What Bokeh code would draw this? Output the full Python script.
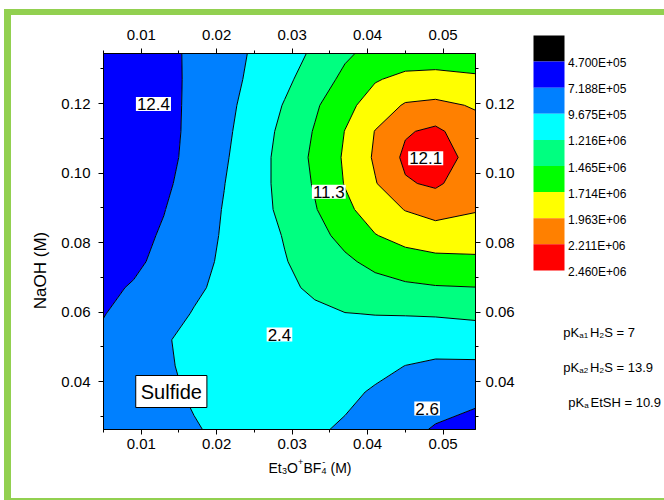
import numpy as np
from bokeh.plotting import figure
from bokeh.models import Range1d, FixedTicker, LinearAxis, Label, NumeralTickFormatter
from bokeh.layouts import row, column
from bokeh.embed import file_html
from bokeh.resources import INLINE

FONT = "'Liberation Sans', Arial, sans-serif"

# ---------------- data ----------------
x_conc = [0.005, 0.009, 0.013, 0.017, 0.021, 0.025, 0.029, 0.033, 0.037, 0.041, 0.045, 0.049, 0.0543]
y_naoh = [0.0262, 0.037, 0.0445, 0.052, 0.0595, 0.067, 0.0745, 0.082, 0.0895, 0.097,
          0.1045, 0.112, 0.1195, 0.127, 0.1344]
# response in units of 1e6 (rows = NaOH ascending, columns = Et3O+BF4- ascending)
z_million = [
    [0.806, 0.856, 0.903, 0.953, 1.005, 1.030, 1.017, 0.997, 0.938, 0.856, 0.781, 0.699, 0.644],
    [0.798, 0.863, 0.928, 0.992, 1.042, 1.067, 1.067, 1.042, 1.017, 0.943, 0.888, 0.831, 0.776],
    [0.781, 0.863, 0.945, 1.005, 1.055, 1.079, 1.087, 1.092, 1.082, 1.030, 0.965, 0.930, 0.928],
    [0.756, 0.853, 0.950, 1.017, 1.055, 1.079, 1.104, 1.129, 1.149, 1.127, 1.097, 1.072, 1.092],
    [0.711, 0.798, 0.888, 0.980, 1.042, 1.092, 1.142, 1.172, 1.211, 1.221, 1.226, 1.236, 1.259],
    [0.669, 0.739, 0.836, 0.933, 1.017, 1.094, 1.172, 1.254, 1.318, 1.373, 1.420, 1.448, 1.460],
    [0.639, 0.674, 0.783, 0.895, 1.002, 1.104, 1.204, 1.311, 1.420, 1.532, 1.612, 1.647, 1.669],
    [0.614, 0.649, 0.744, 0.868, 0.990, 1.107, 1.229, 1.380, 1.540, 1.704, 1.796, 1.851, 1.831],
    [0.594, 0.632, 0.711, 0.846, 0.980, 1.122, 1.274, 1.448, 1.657, 1.836, 1.972, 2.047, 1.980],
    [0.582, 0.619, 0.674, 0.818, 0.963, 1.122, 1.293, 1.487, 1.726, 1.948, 2.186, 2.249, 2.062],
    [0.570, 0.594, 0.647, 0.793, 0.940, 1.112, 1.301, 1.512, 1.744, 1.995, 2.261, 2.373, 2.087],
    [0.565, 0.594, 0.642, 0.778, 0.920, 1.089, 1.278, 1.482, 1.719, 1.970, 2.186, 2.261, 2.047],
    [0.562, 0.599, 0.644, 0.771, 0.903, 1.057, 1.231, 1.430, 1.639, 1.833, 1.985, 2.015, 1.943],
    [0.560, 0.599, 0.649, 0.764, 0.888, 1.017, 1.162, 1.338, 1.520, 1.694, 1.776, 1.788, 1.751],
    [0.557, 0.607, 0.657, 0.761, 0.878, 0.995, 1.119, 1.254, 1.428, 1.540, 1.577, 1.589, 1.577],
]
levels = [4.700e5, 7.188e5, 9.675e5, 1.216e6, 1.465e6, 1.714e6, 1.963e6, 2.211e6, 2.460e6]
level_labels = ["4.700E+05", "7.188E+05", "9.675E+05", "1.216E+06", "1.465E+06",
                "1.714E+06", "1.963E+06", "2.211E+06", "2.460E+06"]
fill_colors = ["#0000FF", "#0080FF", "#00FFFF", "#00FF80", "#00FF00", "#FFFF00", "#FF8000", "#FF0000"]
below_color = "#000000"

x_ticks = [0.01, 0.02, 0.03, 0.04, 0.05]
x_minor = [0.005, 0.015, 0.025, 0.035, 0.045]
y_ticks = [0.04, 0.06, 0.08, 0.10, 0.12]
y_minor = [0.03, 0.05, 0.07, 0.09, 0.11, 0.13]

contour_texts = ["12.4", "12.1", "11.3", "2.4", "2.6"]
contour_text_x = [0.01162, 0.04770, 0.03486, 0.02832, 0.04789]
contour_text_y = [0.1199, 0.10424, 0.09462, 0.05352, 0.03222]


def no_align(fig):
    try:
        fig.frame_align = False
    except Exception:
        pass


def strip(w, h, xr, yr):
    f = figure(width=w, height=h, x_range=Range1d(*xr), y_range=Range1d(*yr),
               output_backend="svg", toolbar_location=None, x_axis_location=None, y_axis_location=None,
               min_border_left=0, min_border_right=0, min_border_top=0, min_border_bottom=0,
               border_fill_color=None, background_fill_color=None, outline_line_color=None)
    f.grid.visible = False
    no_align(f)
    return f


# ---------------- main figure ----------------
X0, X1, Y0, Y1 = 0.005, 0.0543, 0.0262, 0.1344
LEFT_W = 58
MAIN_W, MAIN_H = 520 - LEFT_W, 457
FL, FR, FT, FB = 102, 475, 53, 429   # frame edges in page pixels


def px2x(px):
    return X0 + (px - FL) * (X1 - X0) / (FR - FL)


def py2y(py):
    return Y1 - (py - FT) * (Y1 - Y0) / (FB - FT)


p = figure(width=MAIN_W, height=MAIN_H, x_range=Range1d(X0, X1), y_range=Range1d(Y0, Y1),
           output_backend="svg", toolbar_location=None,
           min_border_left=FL - LEFT_W, min_border_right=520 - FR, min_border_top=FT,
           min_border_bottom=MAIN_H - FB,
           border_fill_color=None, background_fill_color="white", outline_line_color="black")
p.grid.visible = False
no_align(p)

Z = np.array(z_million) * 1e6
p.contour(x=np.array(x_conc), y=np.array(y_naoh), z=Z, levels=levels,
          fill_color=fill_colors, line_color="black", line_width=1)

p.add_layout(LinearAxis(), "above")
p.add_layout(LinearAxis(), "right")


def style_axis(ax, ticks, minor, standoff):
    ax.ticker = FixedTicker(ticks=ticks, minor_ticks=minor)
    ax.formatter = NumeralTickFormatter(format="0.00")
    ax.major_tick_in = 0
    ax.major_tick_out = 5
    ax.minor_tick_in = 0
    ax.minor_tick_out = 3
    ax.axis_line_color = "black"
    ax.major_tick_line_color = "black"
    ax.minor_tick_line_color = "black"
    ax.major_label_text_font = FONT
    ax.major_label_text_font_size = "15px"
    ax.major_label_text_color = "black"
    ax.major_label_standoff = standoff


for ax in p.below:
    style_axis(ax, x_ticks, x_minor, 4)
for ax in p.above:
    style_axis(ax, x_ticks, x_minor, 9)
for ax in p.left:
    style_axis(ax, y_ticks, y_minor, 8)
for ax in p.right:
    style_axis(ax, y_ticks, y_minor, 5)

for t, xv, yv in zip(contour_texts, contour_text_x, contour_text_y):
    p.add_layout(Label(x=xv, y=yv, text=t, text_align="center", text_baseline="middle",
                       text_font=FONT, text_font_size="17px", text_color="black",
                       background_fill_color="white", padding=1))

p.add_layout(Label(x=px2x(170), y=py2y(391), text="Sulfide", text_align="center", text_baseline="middle",
                   text_font=FONT, text_font_size="20px", text_color="black",
                   background_fill_color="white", border_line_color="black", border_line_width=1,
                   padding=5))

# ---------------- left strip : y title ----------------
left = strip(LEFT_W, 500, (0, LEFT_W), (500, 0))
left.add_layout(Label(x=40, y=270, text="NaOH (M)", angle=90, angle_units="deg",
                      text_align="center", text_baseline="middle",
                      text_font=FONT, text_font_size="17px", text_color="black"))

# ---------------- bottom strip : x title ----------------
bottom = strip(MAIN_W, 500 - MAIN_H, (LEFT_W, 520), (500, MAIN_H))
xt_base = 467
xt_pieces = [("Et", 268.0, 0, 14), ("3", 281.5, 3, 9), ("O", 286.5, 0, 14), ("+", 297.6, -6, 9),
             ("BF", 303.0, 0, 14), ("4", 321.0, 3, 9), ("-", 321.8, -6, 9), ("(M)", 330.0, 0, 14)]
for t, px, dy, fs in xt_pieces:
    bottom.add_layout(Label(x=px, y=xt_base + dy, text=t, text_align="left",
                            text_baseline="alphabetic", text_font=FONT, text_font_size=f"{fs}px",
                            text_color="black"))

# ---------------- right strip : colour scale and pKa notes ----------------
p2 = strip(144, 500, (520, 664), (500, 0))
CB_T, CB_H, CB_L, CB_R = 35.0, 26.1, 533.0, 564.0
box_colors = [below_color] + fill_colors
tops = [CB_T + i * CB_H for i in range(len(box_colors))]
p2.quad(left=CB_L, right=CB_R, top=tops, bottom=[t + CB_H for t in tops],
        fill_color=box_colors, line_color=None)
for i, lab in enumerate(level_labels):
    p2.add_layout(Label(x=567.5, y=CB_T + (i + 1) * CB_H + 1.5, text=lab, text_align="left",
                        text_baseline="middle", text_font=FONT, text_font_size="12px",
                        text_color="black"))

pk_lines = [
    (332.3, [("pK", 562.7, 0, 13), ("a1", 578.8, 3, 8), ("H", 589.5, 0, 13), ("2", 599.1, 3, 8),
             ("S = 7", 603.8, 0, 13)]),
    (366.7, [("pK", 562.7, 0, 13), ("a2", 578.8, 3, 8), ("H", 589.5, 0, 13), ("2", 599.1, 3, 8),
             ("S = 13.9", 603.8, 0, 13)]),
    (401.7, [("pK", 567.7, 0, 13), ("a", 583.8, 3, 8), ("EtSH = 10.9", 590.0, 0, 13)]),
]
for base, pieces in pk_lines:
    for t, px, dy, fs in pieces:
        p2.add_layout(Label(x=px, y=base + dy, text=t, text_align="left",
                            text_baseline="alphabetic", text_font=FONT, text_font_size=f"{fs}px",
                            text_color="black"))

GREEN = "#92D050"
bg = (f"linear-gradient({GREEN},{GREEN}) 4px 9px / 660px 6px no-repeat, "
      f"linear-gradient({GREEN},{GREEN}) 4px 9px / 7px 490px no-repeat, "
      f"linear-gradient({GREEN},{GREEN}) 4px 498px / 660px 2px no-repeat, #ffffff")
layout = row(left, column(p, bottom), p2, styles={"background": bg})

open("out.html", "w").write(file_html(layout, INLINE))
